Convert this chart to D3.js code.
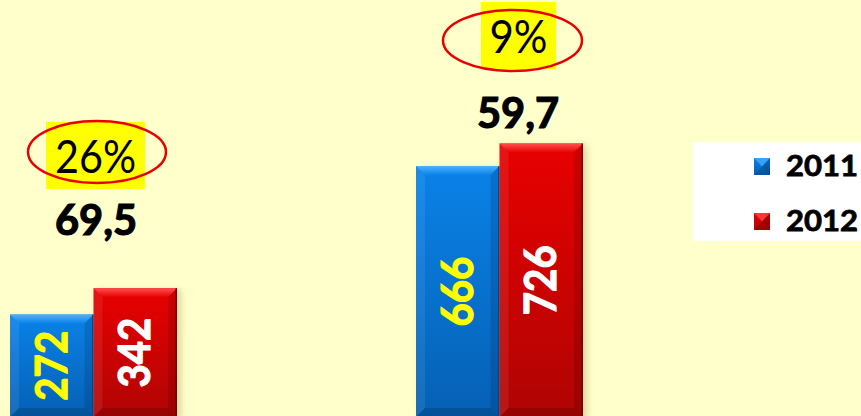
<!DOCTYPE html>
<html>
<head>
<meta charset="utf-8">
<script src="https://cdn.jsdelivr.net/npm/d3@7"></script>
<style>
  html, body { margin: 0; padding: 0; background: #ffffcc; }
  svg { display: block; }
</style>
</head>
<body>
<svg id="chart" width="861" height="416"></svg>
<script>
// data
const categories = ['cat1', 'cat2'];
const years = ['2011', '2012'];
const values2011 = [272, 666];
const values2012 = [342, 726];
const changeLabels = ['26%', '9%'];
const ratioLabels = ['69,5', '59,7'];

const width = 861, height = 416;
const svg = d3.select('#chart');

svg.append('rect').attr('width', width).attr('height', height).attr('fill', '#ffffcc');

const x0 = d3.scalePoint().domain(categories).range([93.5, 499.5]);
const x1 = d3.scaleBand().domain(years).range([-83.5, 83.5]);
const y = d3.scaleLinear().domain([0, 726]).range([417, 143.5]);

const colors = {
  '2011': { top: '#0a82e8', bottom: '#0560b4', light: '#4fb0ff', dark: '#033e80', label: '#ffff00' },
  '2012': { top: '#e80000', bottom: '#b00404', light: '#ff5050', dark: '#6a0000', label: '#ffffff' }
};

const defs = svg.append('defs');
years.forEach(yr => {
  const g = defs.append('linearGradient').attr('id', 'grad' + yr)
    .attr('x1', 0).attr('y1', 0).attr('x2', 0).attr('y2', 1);
  g.append('stop').attr('offset', '0%').attr('stop-color', colors[yr].top);
  g.append('stop').attr('offset', '100%').attr('stop-color', colors[yr].bottom);
  const t = defs.append('linearGradient').attr('id', 'topGrad' + yr)
    .attr('x1', 0).attr('y1', 0).attr('x2', 0).attr('y2', 1);
  t.append('stop').attr('offset', '0%').attr('stop-color', colors[yr].light);
  t.append('stop').attr('offset', '100%').attr('stop-color', colors[yr].top);
});
const sh = defs.append('filter').attr('id', 'shadow').attr('x', '-20%').attr('y', '-20%').attr('width', '140%').attr('height', '140%');
sh.append('feGaussianBlur').attr('stdDeviation', 3);

const series = years.map((yr, i) => ({
  year: yr,
  values: i === 0 ? values2011 : values2012
}));

const bars = [];
series.forEach(s => {
  s.values.forEach((v, i) => bars.push({ cat: categories[i], year: s.year, value: v }));
});

// shadows
svg.append('g').selectAll('rect').data(bars).join('rect')
  .attr('x', d => x0(d.cat) + x1(d.year) + 4)
  .attr('y', d => y(d.value) + 2)
  .attr('width', x1.bandwidth())
  .attr('height', d => y(0) - y(d.value))
  .attr('fill', '#9a8a40')
  .attr('opacity', 0.35)
  .attr('filter', 'url(#shadow)');

const bevel = 9;
const barG = svg.append('g').selectAll('g').data(bars).join('g')
  .attr('transform', d => `translate(${x0(d.cat) + x1(d.year)},${y(d.value)})`);

barG.append('rect')
  .attr('width', x1.bandwidth())
  .attr('height', d => y(0) - y(d.value))
  .attr('fill', d => `url(#grad${d.year})`);

// top bevel
barG.append('path')
  .attr('d', d => {
    const w = x1.bandwidth();
    return `M0,0 L${w},0 L${w - bevel},${bevel} L${bevel},${bevel}Z`;
  })
  .attr('fill', d => `url(#topGrad${d.year})`);
// left bevel
barG.append('path')
  .attr('d', d => {
    const h = y(0) - y(d.value);
    return `M0,0 L${bevel},${bevel} L${bevel},${h - bevel} L0,${h}Z`;
  })
  .attr('fill', '#ffffff').attr('opacity', 0.08);
// right bevel
barG.append('path')
  .attr('d', d => {
    const w = x1.bandwidth(), h = y(0) - y(d.value);
    return `M${w},0 L${w - bevel},${bevel} L${w - bevel},${h - bevel} L${w},${h}Z`;
  })
  .attr('fill', '#000000').attr('opacity', 0.12);
// bottom bevel
barG.append('path')
  .attr('d', d => {
    const w = x1.bandwidth(), h = y(0) - y(d.value);
    return `M0,${h} L${bevel},${h - bevel} L${w - bevel},${h - bevel} L${w},${h}Z`;
  })
  .attr('fill', '#000000').attr('opacity', 0.15);
// edge
barG.append('rect')
  .attr('x', x1.bandwidth() - 1.5)
  .attr('width', 1.5)
  .attr('height', d => y(0) - y(d.value))
  .attr('fill', d => colors[d.year].dark)
  .attr('opacity', 0.8);

// value labels inside bars (rotated)
barG.append('text')
  .attr('transform', d => `translate(${x1.bandwidth() / 2 + 15},${(y(0) - y(d.value)) / 2}) rotate(-90)`)
  .attr('text-anchor', 'middle')
  .attr('font-family', 'Lato, sans-serif')
  .attr('font-weight', 'bold')
  .attr('font-size', 44)
  .attr('textLength', 70)
  .attr('lengthAdjust', 'spacingAndGlyphs')
  .attr('fill', d => colors[d.year].label)
  .attr('stroke', d => colors[d.year].label)
  .attr('stroke-width', 1.2)
  .text(d => d.value);

// annotations above each group
const annot = [
  { rx: -47.5, rw: 99, ry: 122, ecx: 3.5, ecy: 152, erx: 69, ery: 31, tl: 81, vx: 2.5, vy: 235 },
  { rx: -18.5, rw: 75, ry: 2, ecx: 13, ecy: 40.5, erx: 69.5, ery: 30.5, tl: 58, vx: 18.5, vy: 128 }
];

const ag = svg.append('g').selectAll('g').data(categories).join('g')
  .attr('transform', d => `translate(${x0(d)},0)`);

ag.append('rect')
  .attr('x', (d, i) => annot[i].rx)
  .attr('y', (d, i) => annot[i].ry)
  .attr('width', (d, i) => annot[i].rw)
  .attr('height', 67)
  .attr('fill', '#ffff00');

ag.append('text')
  .attr('x', (d, i) => annot[i].rx + annot[i].rw / 2)
  .attr('y', (d, i) => annot[i].ry + 51)
  .attr('text-anchor', 'middle')
  .attr('font-family', 'Lato, sans-serif')
  .attr('font-size', 46)
  .attr('textLength', (d, i) => annot[i].tl)
  .attr('lengthAdjust', 'spacingAndGlyphs')
  .attr('fill', '#000')
  .text((d, i) => changeLabels[i]);

ag.append('ellipse')
  .attr('cx', (d, i) => annot[i].ecx)
  .attr('cy', (d, i) => annot[i].ecy)
  .attr('rx', (d, i) => annot[i].erx)
  .attr('ry', (d, i) => annot[i].ery)
  .attr('fill', 'none')
  .attr('stroke', '#e80000')
  .attr('stroke-width', 2.5);

ag.append('text')
  .attr('x', (d, i) => annot[i].vx)
  .attr('y', (d, i) => annot[i].vy)
  .attr('text-anchor', 'middle')
  .attr('font-family', 'Lato, sans-serif')
  .attr('font-weight', 'bold')
  .attr('font-size', 42)
  .attr('textLength', 82)
  .attr('lengthAdjust', 'spacingAndGlyphs')
  .attr('fill', '#000')
  .attr('stroke', '#000')
  .attr('stroke-width', 1.2)
  .text((d, i) => ratioLabels[i]);

// legend
const legend = svg.append('g').attr('transform', 'translate(693,142)');
legend.append('rect').attr('width', 180).attr('height', 99).attr('fill', '#ffffff');
const li = legend.selectAll('g').data(years).join('g')
  .attr('transform', (d, i) => `translate(61,${16 + i * 55})`);
li.append('rect').attr('width', 16).attr('height', 17).attr('fill', d => `url(#grad${d})`);
li.append('path')
  .attr('d', 'M0,0 L16,0 L8,8.5Z')
  .attr('fill', d => colors[d].light).attr('opacity', 0.7);
li.append('path')
  .attr('d', 'M16,0 L16,17 L8,8.5Z')
  .attr('fill', '#000').attr('opacity', 0.2);
li.append('path')
  .attr('d', 'M0,17 L16,17 L8,8.5Z')
  .attr('fill', '#000').attr('opacity', 0.12);
li.append('text')
  .attr('x', 32)
  .attr('y', 17.5)
  .attr('font-family', 'Lato, sans-serif')
  .attr('font-weight', 'bold')
  .attr('font-size', 29)
  .attr('textLength', 72)
  .attr('lengthAdjust', 'spacingAndGlyphs')
  .attr('fill', '#000')
  .attr('stroke', '#000')
  .attr('stroke-width', 0.8)
  .text(d => d);
</script>
</body>
</html>
